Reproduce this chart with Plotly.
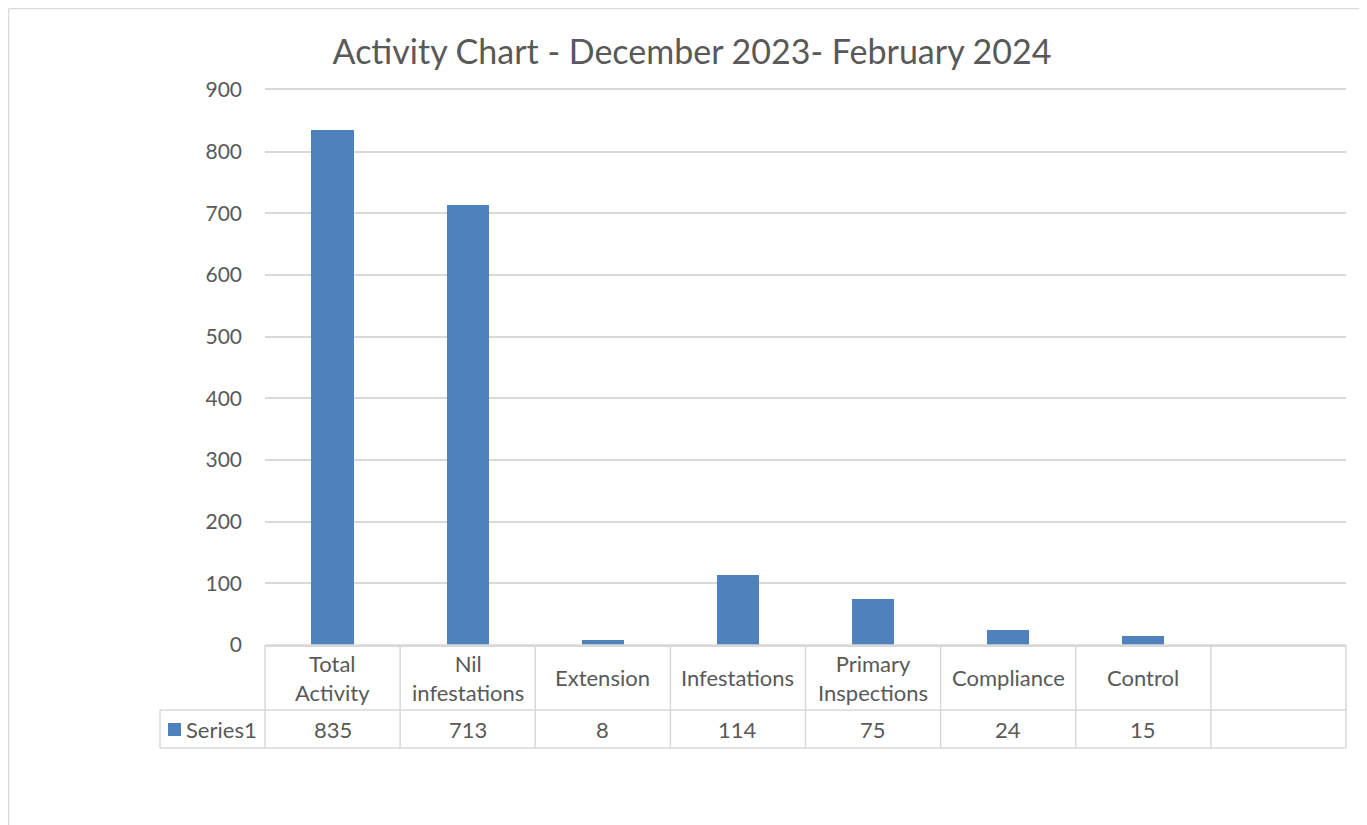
import plotly.graph_objects as go

categories = ["Total Activity", "Nil infestations", "Extension", "Infestations",
              "Primary Inspections", "Compliance", "Control", ""]
category_labels = ["Total<br>Activity", "Nil<br>infestations", "Extension", "Infestations",
                   "Primary<br>Inspections", "Compliance", "Control", ""]
values = [835, 713, 8, 114, 75, 24, 15, None]
series_name = "Series1"
y_ticks = [0, 100, 200, 300, 400, 500, 600, 700, 800, 900]

OFF = 8  # page body margin
W, H = 1367 - OFF, 825 - OFF
L, R, T, B = 265 - OFF, 21, 90 - OFF, 180
pw, ph = W - L - R, H - T - B
FONT = "Lato"
TXT = "#595959"
GRID = "#d9d9d9"
BAR = "#4f81bd"

def px_x(x):
    return (x - OFF - L) / pw

def px_y(y):
    return (H - B - (y - OFF)) / ph

n = len(categories)
fig = go.Figure()
fig.add_trace(go.Bar(x=list(range(n)), y=values, name=series_name,
                     marker=dict(color=BAR, line=dict(width=0)), width=0.313,
                     hoverinfo="x+y"))

shapes = []
line = dict(color=GRID, width=1.5)
for k in range(n + 1):
    shapes.append(dict(type="line", xref="paper", yref="paper", x0=k / n, x1=k / n,
                       y0=px_y(645), y1=px_y(748), line=line))
xl = px_x(160)
shapes.append(dict(type="line", xref="paper", yref="paper", x0=xl, x1=xl,
                   y0=px_y(710), y1=px_y(748), line=line))
for yy, x0 in [(645, 0), (710, xl), (748, xl)]:
    shapes.append(dict(type="line", xref="paper", yref="paper", x0=x0, x1=1,
                       y0=px_y(yy), y1=px_y(yy), line=line))
shapes.append(dict(type="rect", xref="paper", yref="paper", x0=px_x(168), x1=px_x(181),
                   y0=px_y(736), y1=px_y(723), fillcolor=BAR, line=dict(width=0)))
shapes.append(dict(type="line", xref="paper", yref="paper", x0=px_x(8.5), x1=px_x(8.5),
                   y0=px_y(8.5), y1=px_y(830), line=dict(color=GRID, width=1.5)))
shapes.append(dict(type="line", xref="paper", yref="paper", x0=px_x(8.5), x1=px_x(1370),
                   y0=px_y(8.5), y1=px_y(8.5), line=dict(color=GRID, width=1.5)))

annotations = []
for k in range(n):
    annotations.append(dict(x=(k + 0.5) / n, y=px_y(677.5), xref="paper", yref="paper",
                            text=category_labels[k], showarrow=False, xanchor="center",
                            yanchor="middle", font=dict(size=22, color=TXT, family=FONT)))
    if values[k] is not None:
        annotations.append(dict(x=(k + 0.5) / n, y=px_y(729.5), xref="paper", yref="paper",
                                text=str(values[k]), showarrow=False, xanchor="center",
                                yanchor="middle", font=dict(size=22, color=TXT, family=FONT)))
annotations.append(dict(x=px_x(184), y=px_y(729.5), xref="paper", yref="paper",
                        text=series_name, showarrow=False, xanchor="left", yanchor="middle",
                        font=dict(size=22, color=TXT, family=FONT)))

fig.update_layout(
    width=W, height=H,
    margin=dict(l=L, r=R, t=T, b=B, autoexpand=False),
    paper_bgcolor="white", plot_bgcolor="white",
    showlegend=False,
    title=dict(text="Activity Chart - December 2023- February 2024",
               x=(692 - OFF) / W, xref="container", xanchor="center",
               y=1 - (52 - OFF) / H, yref="container", yanchor="middle",
               font=dict(size=34, color=TXT, family=FONT)),
    xaxis=dict(range=[-0.5, n - 0.5], showticklabels=False, showgrid=False,
               zeroline=False, showline=True, mirror=True, linecolor=GRID,
               linewidth=1.5, ticks=""),
    yaxis=dict(range=[0, 900], tickvals=y_ticks, showgrid=True, gridcolor=GRID,
               gridwidth=1.5, zeroline=False, showline=False, ticks="",
               ticklabelstandoff=22,
               tickfont=dict(size=21, color=TXT, family=FONT)),
    shapes=shapes, annotations=annotations,
    bargap=0,
)
fig.write_html("out.html")
